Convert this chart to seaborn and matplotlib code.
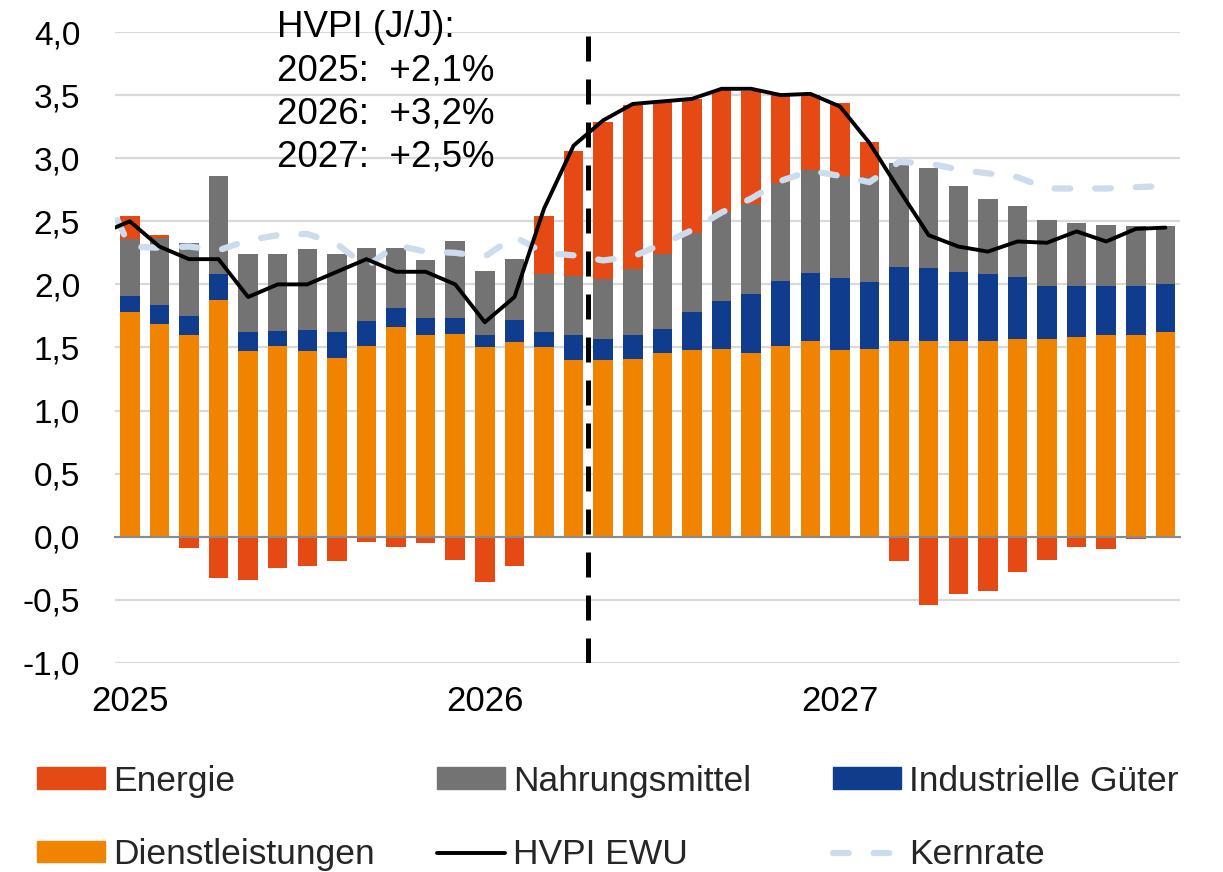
import numpy as np
import pandas as pd
import matplotlib
matplotlib.use("Agg")
import matplotlib.pyplot as plt
import seaborn as sns
from matplotlib.patches import Patch
from matplotlib.lines import Line2D
from matplotlib.ticker import FixedLocator, FixedFormatter, NullFormatter, FuncFormatter

# --- Daten: Monatswerte Jan 2025 - Dez 2027, Beitraege in Prozentpunkten ---
jahre = ["2025", "2026", "2027"]

dienstleistungen = [1.78, 1.69, 1.60, 1.88, 1.47, 1.51, 1.47, 1.42, 1.51, 1.66, 1.60, 1.61,
                    1.50, 1.54, 1.50, 1.40, 1.40, 1.41, 1.46, 1.48, 1.49, 1.46, 1.51, 1.55,
                    1.48, 1.49, 1.55, 1.55, 1.55, 1.55, 1.57, 1.57, 1.58, 1.60, 1.60, 1.62]
industrie = [0.13, 0.15, 0.15, 0.20, 0.15, 0.12, 0.17, 0.20, 0.20, 0.15, 0.13, 0.12,
             0.10, 0.18, 0.12, 0.20, 0.17, 0.19, 0.19, 0.30, 0.38, 0.46, 0.52, 0.54,
             0.57, 0.53, 0.59, 0.58, 0.55, 0.53, 0.49, 0.42, 0.41, 0.39, 0.39, 0.38]
nahrung = [0.45, 0.53, 0.58, 0.78, 0.62, 0.61, 0.64, 0.62, 0.58, 0.48, 0.46, 0.61,
           0.51, 0.48, 0.46, 0.47, 0.47, 0.52, 0.59, 0.63, 0.70, 0.72, 0.77, 0.82,
           0.81, 0.83, 0.82, 0.79, 0.68, 0.60, 0.56, 0.52, 0.50, 0.48, 0.47, 0.46]
energie = [0.18, 0.02, -0.09, -0.33, -0.34, -0.25, -0.23, -0.19, -0.04, -0.08, -0.05, -0.18,
           -0.36, -0.23, 0.46, 0.99, 1.25, 1.30, 1.21, 1.06, 0.97, 0.89, 0.71, 0.59,
           0.58, 0.28, -0.19, -0.54, -0.45, -0.43, -0.28, -0.18, -0.08, -0.10, -0.02, 0.00]

# HVPI und Kernrate, erster Wert = Dez 2024 (nur angeschnitten sichtbar)
hvpi = [2.4,
        2.5, 2.3, 2.2, 2.2, 1.9, 2.0, 2.0, 2.1, 2.2, 2.1, 2.1, 2.0,
        1.7, 1.9, 2.6, 3.1, 3.3, 3.43, 3.45, 3.47, 3.55, 3.55, 3.5, 3.51,
        3.41, 3.12, 2.75, 2.39, 2.3, 2.26, 2.34, 2.33, 2.42, 2.34, 2.44, 2.45]
kernrate = [2.8,
            2.3, 2.29, 2.3, 2.27, 2.35, 2.39, 2.4, 2.32, 2.14, 2.31, 2.26, 2.25,
            2.22, 2.38, 2.25, 2.23, 2.19, 2.22, 2.32, 2.43, 2.57, 2.68, 2.82, 2.9,
            2.86, 2.81, 2.97, 2.96, 2.91, 2.88, 2.85, 2.76, 2.76, 2.76, 2.77, 2.78]

prognose_start = 15.5
textbox = ["HVPI (J/J):", "2025:  +2,1%", "2026:  +3,2%", "2027:  +2,5%"]

farben = {"Energie": "#e64a14", "Nahrungsmittel": "#737373",
          "Industrielle Güter": "#0f3c8c", "Dienstleistungen": "#f08300",
          "HVPI EWU": "#000000", "Kernrate": "#cddcec"}

# --- Daten vorbereiten ---
df = pd.DataFrame({"monat": np.arange(len(dienstleistungen)),
                   "dl": dienstleistungen, "ind": industrie,
                   "nahr": nahrung, "en": energie})
linien = pd.DataFrame({"monat": np.arange(-1, len(dienstleistungen)),
                       "hvpi": hvpi, "kern": kernrate})

sns.set_theme(style="white")
plt.rcParams["font.family"] = ["Liberation Sans", "DejaVu Sans"]

fig, ax = plt.subplots(figsize=(12.23, 8.72), dpi=100)
fig.subplots_adjust(left=0.094, right=0.965, bottom=0.2397, top=0.9633)

# --- gestapelte Balken ---
w = 0.66
x = df["monat"]
ax.bar(x, df["dl"], width=w, color=farben["Dienstleistungen"], lw=0, zorder=2)
ax.bar(x, df["ind"], bottom=df["dl"], width=w, color=farben["Industrielle Güter"], lw=0, zorder=2)
ax.bar(x, df["nahr"], bottom=df["dl"] + df["ind"], width=w, color=farben["Nahrungsmittel"], lw=0, zorder=2)
en_bottom = np.where(df["en"] >= 0, df["dl"] + df["ind"] + df["nahr"], 0)
ax.bar(x, df["en"], bottom=en_bottom, width=w, color=farben["Energie"], lw=0, zorder=2)

# --- Linien ---
kern_style = dict(color=farben["Kernrate"], lw=4.5, linestyle=(0, (2.5, 4.0)),
                  dash_capstyle="round")
sns.lineplot(data=linien, x="monat", y="kern", ax=ax, zorder=3, **kern_style)
sns.lineplot(data=linien, x="monat", y="hvpi", ax=ax, color="black", lw=2.8, zorder=4)

# Prognosebeginn
ax.axvline(prognose_start, color="black", lw=3.6, linestyle=(0, (5, 3.6)), zorder=5)

# --- Achsen ---
ax.set_xlim(-0.5, 35.5)
ax.set_ylim(-1.0, 4.0)
ax.set_xlabel("")
ax.set_ylabel("")
ax.set_yticks(np.arange(-1.0, 4.01, 0.5))
ax.yaxis.set_major_formatter(FuncFormatter(lambda v, p: f"{v:.1f}".replace(".", ",")))
ax.tick_params(axis="y", length=0, pad=25, labelsize=24, labelcolor="black")
ax.yaxis.grid(True, color="#d9d9d9", lw=1.6)
ax.set_axisbelow(True)

for s in ["left", "right", "top"]:
    ax.spines[s].set_visible(False)
ax.spines["bottom"].set_position(("data", 0))
ax.spines["bottom"].set_color("#8a8a8a")
ax.spines["bottom"].set_linewidth(1.5)

ax.xaxis.set_major_locator(FixedLocator([-0.5, 11.5, 23.5, 35.5]))
ax.xaxis.set_major_formatter(NullFormatter())
ax.xaxis.set_minor_locator(FixedLocator([0, 12, 24]))
ax.xaxis.set_minor_formatter(FixedFormatter(jahre))
ax.tick_params(axis="x", which="major", length=6, width=1.5, color="#8a8a8a", direction="out")
ax.tick_params(axis="x", which="minor", length=0, pad=107, labelsize=25, labelcolor="black")

# --- Textbox ---
fig.text(277 / 1223, 0.988, "\n".join(textbox), ha="left", va="top",
         fontsize=26.5, linespacing=1.3, color="black")

# --- Legende (drei Spalten) ---
spalten = [
    [Patch(color=farben["Energie"], label="Energie"),
     Patch(color=farben["Dienstleistungen"], label="Dienstleistungen")],
    [Patch(color=farben["Nahrungsmittel"], label="Nahrungsmittel"),
     Line2D([], [], color="black", lw=2.8, label="HVPI EWU")],
    [Patch(color=farben["Industrielle Güter"], label="Industrielle Güter"),
     Line2D([], [], label="Kernrate", **kern_style)],
]
for xpos, handles in zip([37, 437, 833], spalten):
    fig.legend(handles=handles, loc="center left", bbox_to_anchor=(xpos / 1223, 0.062),
               frameon=False, fontsize=25.5, borderpad=0, borderaxespad=0,
               handlelength=1.92, handleheight=0.55, handletextpad=0.23, labelspacing=1.15)

plt.savefig("out.png", dpi=100)
